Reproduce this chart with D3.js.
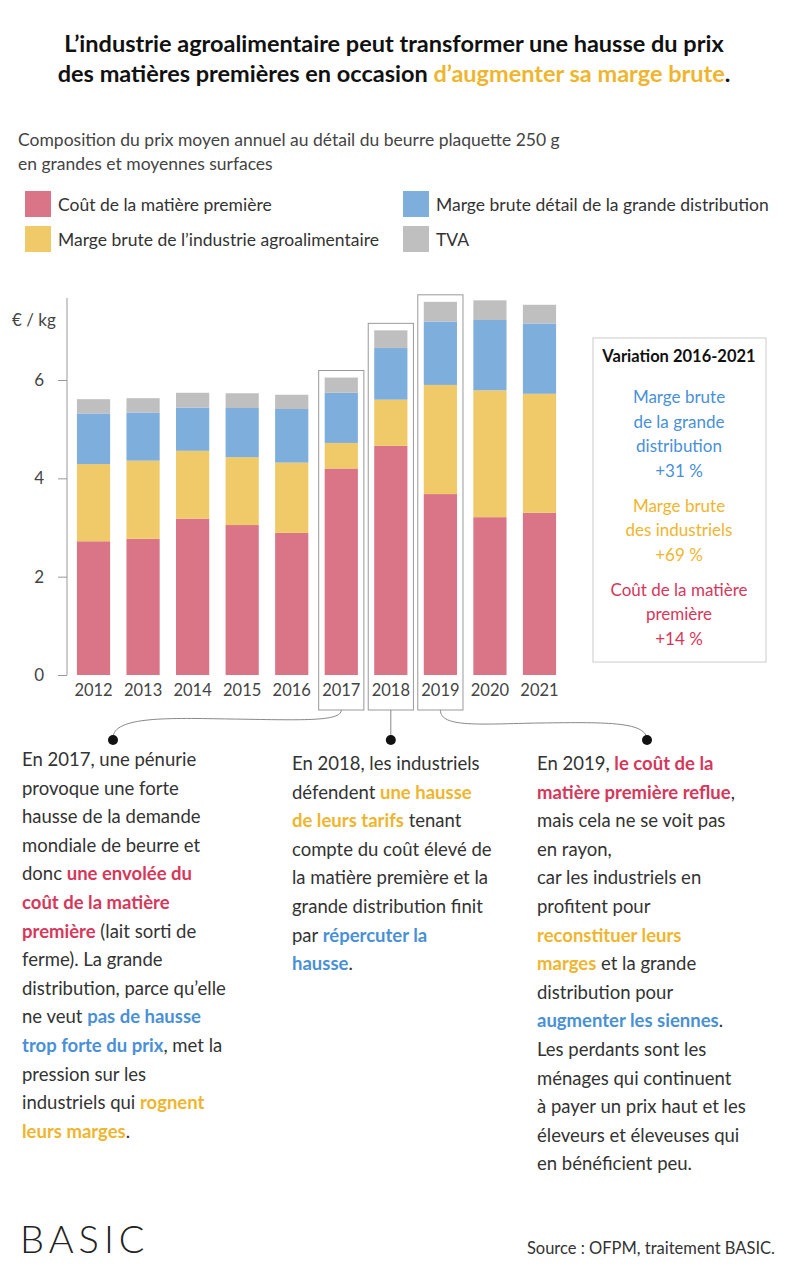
<!DOCTYPE html>
<html><head><meta charset="utf-8">
<script src="https://cdn.jsdelivr.net/npm/d3@7"></script>
<style>body{margin:0;background:#fff}svg{font-family:Lato,"Noto Sans",sans-serif}</style>
</head><body>
<script>
var years = ['2012','2013','2014','2015','2016','2017','2018','2019','2020','2021'];
var matiere = [2.72,2.77,3.18,3.05,2.89,4.20,4.66,3.68,3.21,3.30];
var industrie = [1.57,1.59,1.38,1.38,1.43,0.52,0.94,2.22,2.58,2.42];
var distribution = [1.03,0.98,0.88,1.00,1.09,1.02,1.05,1.29,1.43,1.43];
var tva = [0.29,0.29,0.30,0.30,0.29,0.31,0.36,0.40,0.40,0.38];
var yTicks = [0,2,4,6];
var keys = ['matiere','industrie','distribution','tva'];
var colors = {matiere:'#d97586',industrie:'#f0ca68',distribution:'#7eaedb',tva:'#c0bfc0'};
var legend = [['matiere','Coût de la matière première',22,207],['distribution','Marge brute détail de la grande distribution',400,207],
  ['industrie','Marge brute de l’industrie agroalimentaire',22,242],['tva','TVA',400,242]];
var RED='#d6375a', YEL='#efb52e', BLUE='#4a90d6';

var svg = d3.select('body').append('svg').attr('width',788).attr('height',1280);

var title = svg.append('text').attr('x',394).attr('text-anchor','middle').attr('font-weight','bold').attr('font-size',23.5).attr('fill','#111');
title.append('tspan').attr('x',394).attr('y',52).text('L’industrie agroalimentaire peut transformer une hausse du prix');
var t2 = title.append('tspan').attr('x',394).attr('y',82);
t2.append('tspan').text('des matières premières en occasion ');
t2.append('tspan').attr('fill',YEL).text('d’augmenter sa marge brute');
t2.append('tspan').text('.');

svg.append('text').attr('x',18).attr('y',146).attr('font-size',17.5).attr('fill','#444').text('Composition du prix moyen annuel au détail du beurre plaquette 250 g');
svg.append('text').attr('x',18).attr('y',170).attr('font-size',17.5).attr('fill','#444').text('en grandes et moyennes surfaces');

legend.forEach(function(l){
  svg.append('rect').attr('x',l[2]+3).attr('y',l[3]-16).attr('width',26).attr('height',26).attr('fill',colors[l[0]]);
  svg.append('text').attr('x',l[2]+36).attr('y',l[3]+4).attr('font-size',17.5).attr('fill','#333').text(l[1]);
});

var data = years.map(function(y,i){return {year:y,matiere:matiere[i],industrie:industrie[i],distribution:distribution[i],tva:tva[i]};});
var x = d3.scaleBand().domain(years).range([68,565]).paddingInner(0.33).paddingOuter(0.18);
var y = d3.scaleLinear().domain([0,6]).range([675,380]);
var stack = d3.stack().keys(keys)(data);

svg.append('g').selectAll('g').data(stack).join('g').attr('fill',function(s){return colors[s.key];})
  .selectAll('rect').data(function(s){return s;}).join('rect')
  .attr('x',function(d){return x(d.data.year);}).attr('width',x.bandwidth())
  .attr('y',function(d){return y(d[1]);}).attr('height',function(d){return y(d[0])-y(d[1]);});

var ya = svg.append('g').attr('transform','translate(67,0)').call(d3.axisLeft(y).tickValues(yTicks).tickFormat(d3.format('d')).tickSize(9).tickPadding(14));
ya.select('.domain').attr('d','M0,298V675').attr('stroke','#999');
ya.selectAll('.tick line').attr('stroke','#999');
ya.selectAll('text').attr('font-size',17).attr('fill','#444').attr('font-family','Lato,sans-serif');
svg.append('text').attr('x',12).attr('y',326).attr('font-size',17).attr('fill','#444').text('€ / kg');

var xa = svg.append('g').attr('transform','translate(0,675)').call(d3.axisBottom(x).tickSize(0).tickPadding(9));
xa.select('.domain').remove();
xa.selectAll('text').attr('font-size',16.5).attr('fill','#444').attr('font-family','Lato,sans-serif');

// highlight boxes
[['2017',6.05],['2018',7.01],['2019',7.59]].forEach(function(h){
  var top = y(h[1]) - 7;
  svg.append('rect').attr('x',x(h[0])-6).attr('y',top).attr('width',x.bandwidth()+12).attr('height',710-top)
    .attr('fill','none').attr('stroke','#999').attr('stroke-width',1);
});

// connectors
var cx17 = x('2017')+x.bandwidth()/2, cx18 = x('2018')+x.bandwidth()/2, cx19 = x('2019')+x.bandwidth()/2;
var g = svg.append('g').attr('fill','none').attr('stroke','#888').attr('stroke-width',1);
g.append('path').attr('d','M'+cx17+',710 C'+cx17+',722 300,720 230,719 C170,718 113,716 113,738');
g.append('path').attr('d','M'+cx18+',710 V740');
g.append('path').attr('d','M'+cx19+',710 C'+cx19+',728 480,724 540,723 C610,722 647,722 647,740');
[113,cx18,647].forEach(function(cx){svg.append('circle').attr('cx',cx).attr('cy',740).attr('r',5).attr('fill','#111');});

// variation box
svg.append('rect').attr('x',593).attr('y',338).attr('width',173).attr('height',324).attr('fill','#fff').attr('stroke','#ccc');
svg.append('text').attr('x',679).attr('y',362).attr('text-anchor','middle').attr('font-weight','bold').attr('font-size',16.5).attr('fill','#111').text('Variation 2016-2021');
var varLines = [['Marge brute',BLUE],['de la grande',BLUE],['distribution',BLUE],['+31 %',BLUE],
  ['Marge brute',YEL],['des industriels',YEL],['+69 %',YEL],['Coût de la matière',RED],['première',RED],['+14 %',RED]];
var vy = [403,428,452,477,512,536,561,596,620,645];
varLines.forEach(function(v,i){
  svg.append('text').attr('x',679).attr('y',vy[i]).attr('text-anchor','middle').attr('font-size',17).attr('fill',v[1]).text(v[0]);
});

// annotations
var N='#333';
function para(x0,y0,lines){
  lines.forEach(function(line,i){
    var t = svg.append('text').attr('x',x0).attr('y',y0+i*28.6).attr('font-size',18.5).attr('fill',N);
    line.forEach(function(s){
      var sp = t.append('tspan').text(s[0]);
      if(s[1]){sp.attr('fill',s[1]).attr('font-weight','bold');}
    });
  });
}
para(22,766,[[['En 2017, une pénurie']],[['provoque une forte']],[['hausse de la demande']],[['mondiale de beurre et']],
  [['donc '],['une envolée du',RED]],[['coût de la matière',RED]],[['première',RED],[' (lait sorti de']],[['ferme). La grande']],
  [['distribution, parce qu’elle']],[['ne veut '],['pas de hausse',BLUE]],[['trop forte du prix',BLUE],[', met la']],
  [['pression sur les']],[['industriels qui '],['rognent',YEL]],[['leurs marges',YEL],['.']]]);
para(292,770,[[['En 2018, les industriels']],[['défendent '],['une hausse',YEL]],[['de leurs tarifs',YEL],[' tenant']],
  [['compte du coût élevé de']],[['la matière première et la']],[['grande distribution finit']],[['par '],['répercuter la',BLUE]],[['hausse',BLUE],['.']]]);
para(537,770,[[['En 2019, '],['le coût de la',RED]],[['matière première reflue',RED],[',']],[['mais cela ne se voit pas']],
  [['en rayon,']],[['car les industriels en']],[['profitent pour']],[['reconstituer leurs',YEL]],[['marges',YEL],[' et la grande']],
  [['distribution pour']],[['augmenter les siennes',BLUE],['.']],[['Les perdants sont les']],[['ménages qui continuent']],
  [['à payer un prix haut et les']],[['éleveurs et éleveuses qui']],[['en bénéficient peu.']]]);

svg.append('text').attr('x',20).attr('y',1253).attr('font-size',38).attr('fill','#222').attr('letter-spacing',5).attr('font-weight',300).text('BASIC');
svg.append('text').attr('x',775).attr('y',1254).attr('text-anchor','end').attr('font-size',16.5).attr('fill','#333').text('Source :  OFPM, traitement BASIC.');
</script>
</body></html>
